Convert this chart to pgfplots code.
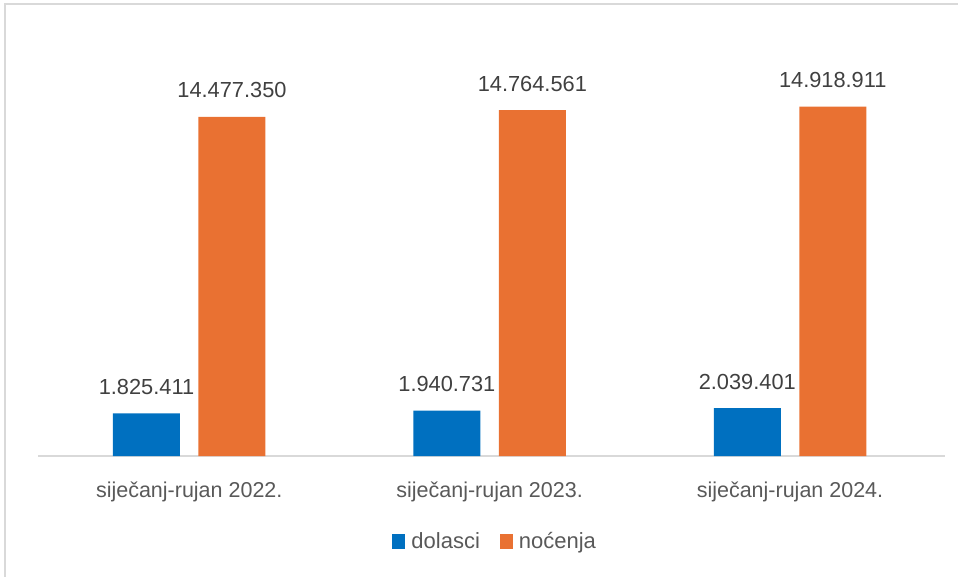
\documentclass[border=0pt]{standalone}
\usepackage{pgfplots}
\pgfplotsset{compat=1.18}
\usepackage{fontspec}
\setmainfont{Liberation Sans}
\definecolor{cblue}{HTML}{0070C0}
\definecolor{corange}{HTML}{E97132}
\definecolor{ctext}{HTML}{404040}
\definecolor{ctextl}{HTML}{595959}
\definecolor{cgrid}{HTML}{D9D9D9}
\begin{document}
\begin{tikzpicture}[x=1pt,y=1pt]
\useasboundingbox (0,0) rectangle (958,576);
\draw[cgrid, line width=1.5pt] (5,-10) -- (5,572) -- (970,572);
\begin{axis}[
  at={(38pt,120pt)}, anchor=south west,
  scale only axis, width=907pt, height=426pt,
  xmin=-0.5035, xmax=2.516, ymin=0, ymax=18.19e6,
  clip=false,
  axis x line*=bottom, axis y line=none,
  x axis line style={cgrid, line width=1.5pt, -},
  xtick={0,1,2},
  xticklabels={siječanj-rujan 2022.,siječanj-rujan 2023.,siječanj-rujan 2024.},
  major tick length=0pt,
  xticklabel style={anchor=base, inner sep=0pt, yshift=-41pt, text=ctextl, font=\fontsize{21.5}{25}\selectfont},
  ytick=\empty,
  nodes near coords,
  point meta=explicit symbolic,
  every node near coord/.append style={anchor=base, inner sep=0pt, yshift=19pt, text=ctext, font=\fontsize{21.8}{25}\selectfont},
  legend columns=2,
  legend style={draw=none, fill=none, at={(0.503,-0.2)}, anchor=center, font=\fontsize{22}{25}\selectfont, text=ctextl,
    nodes={inner sep=0pt},
    /tikz/every odd column/.append style={column sep=6pt},
    /tikz/every even column/.append style={column sep=20pt}},
  legend image code/.code={\fill[#1] (0pt,-7.5pt) rectangle (13pt,7.5pt);},
]
\addplot[ybar, fill=cblue, draw=none, bar width=67pt, bar shift=0pt] coordinates {
  (-0.1423,1825411) [1.825.411]
  (0.8577,1940731) [1.940.731]
  (1.8577,2039401) [2.039.401]
};
\addlegendentry{dolasci}
\addplot[ybar, fill=corange, draw=none, bar width=67pt, bar shift=0pt] coordinates {
  (0.1423,14477350) [14.477.350]
  (1.1423,14764561) [14.764.561]
  (2.1423,14918911) [14.918.911]
};
\addlegendentry{noćenja}
\end{axis}
\end{tikzpicture}
\end{document}
